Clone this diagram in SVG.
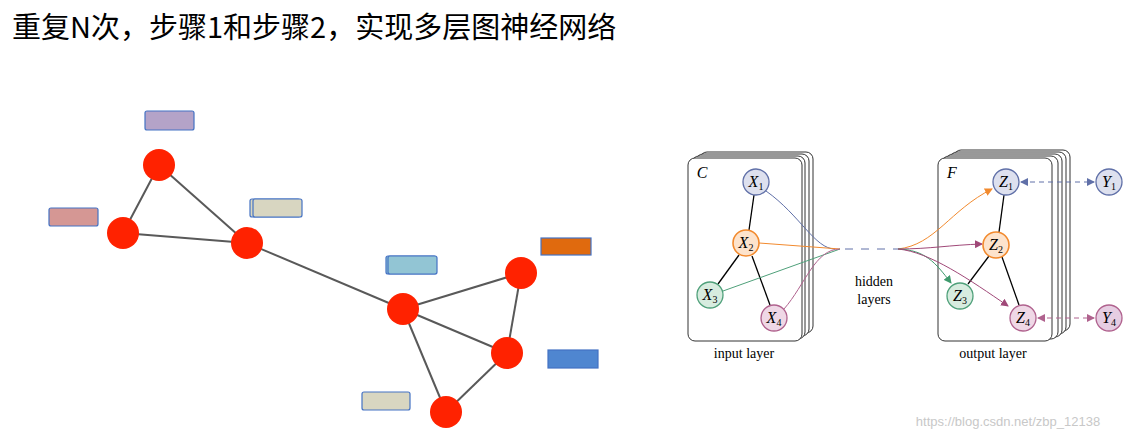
<svg xmlns="http://www.w3.org/2000/svg" width="1129" height="439" viewBox="0 0 1129 439">
<style>
.t{font-family:"Noto Sans CJK SC","Liberation Sans",sans-serif}
.s{font-family:"Liberation Serif",serif}
.m{font-family:"Liberation Serif",serif;font-style:italic;font-size:16px;text-anchor:middle}
.e{stroke:#595959;stroke-width:2}
.n{fill:#ff2200}
.b{stroke:#4472c4;stroke-width:1.2}
.card{fill:#fff;stroke:#333;stroke-width:1}
.k{stroke:#000;stroke-width:1.3}
</style>
<defs>
<marker id="ao" markerWidth="8" markerHeight="8" refX="7" refY="4" orient="auto" markerUnits="userSpaceOnUse"><path d="M0,0 L8,4 L0,8z" fill="#f28a2e"/></marker>
<marker id="ap" markerWidth="8" markerHeight="8" refX="7" refY="4" orient="auto" markerUnits="userSpaceOnUse"><path d="M0,0 L8,4 L0,8z" fill="#a04878"/></marker>
<marker id="ag" markerWidth="8" markerHeight="8" refX="7" refY="4" orient="auto" markerUnits="userSpaceOnUse"><path d="M0,0 L8,4 L0,8z" fill="#3e9a6c"/></marker>
<marker id="ab" markerWidth="8" markerHeight="8" refX="7" refY="4" orient="auto-start-reverse" markerUnits="userSpaceOnUse"><path d="M0,0 L8,4 L0,8z" fill="#6070a8"/></marker>
<marker id="am" markerWidth="8" markerHeight="8" refX="7" refY="4" orient="auto-start-reverse" markerUnits="userSpaceOnUse"><path d="M0,0 L8,4 L0,8z" fill="#b0628e"/></marker>
</defs>
<text class="t" x="12" y="38" font-size="29" fill="#000">重复N次，步骤1和步骤2，实现多层图神经网络</text>
<g id="connectors">
<line class="e" x1="159" y1="165" x2="123" y2="233"/>
<line class="e" x1="159" y1="165" x2="247" y2="243"/>
<line class="e" x1="123" y1="233" x2="247" y2="243"/>
<line class="e" x1="247" y1="243" x2="403" y2="309"/>
<line class="e" x1="403" y1="309" x2="521" y2="273"/>
<line class="e" x1="403" y1="309" x2="507" y2="353"/>
<line class="e" x1="521" y1="273" x2="507" y2="353"/>
<line class="e" x1="403" y1="309" x2="446" y2="412"/>
<line class="e" x1="507" y1="353" x2="446" y2="412"/>
</g>
<g id="graph-nodes">
<circle class="n" cx="159" cy="165" r="16"/>
<circle class="n" cx="123" cy="233" r="16"/>
<circle class="n" cx="247" cy="243" r="16"/>
<circle class="n" cx="403" cy="309" r="16"/>
<circle class="n" cx="521" cy="273" r="16"/>
<circle class="n" cx="507" cy="353" r="16"/>
<circle class="n" cx="446" cy="412" r="16"/>
</g>
<g id="feature-boxes">
<rect class="b" x="145" y="111" width="49" height="19" rx="2" fill="#b4a3c8"/>
<rect class="b" x="49" y="208" width="49" height="18" rx="2" fill="#d59794"/>
<rect class="b" x="250" y="199" width="50" height="18" rx="2" fill="#d8d6c1"/>
<rect class="b" x="253" y="199" width="49" height="18" rx="2" fill="#d8d6c1"/>
<rect class="b" x="386" y="256" width="50" height="18" rx="2" fill="#92c5d4"/>
<rect class="b" x="388" y="256" width="49" height="18" rx="2" fill="#92c5d4"/>
<rect class="b" x="541" y="238" width="50" height="17" fill="#e06a0e"/>
<rect class="b" x="548" y="350" width="50" height="18" fill="#4f86d0"/>
<rect class="b" x="362" y="392" width="48" height="18" rx="2" fill="#d8d6c1"/>
</g>
<g id="input-layer">
<rect class="card" x="700" y="152" width="113" height="181" rx="7"/>
<rect class="card" x="696" y="154" width="113" height="182" rx="7"/>
<rect class="card" x="692" y="156" width="113" height="183" rx="7"/>
<rect class="card" x="688" y="158" width="114" height="183" rx="7"/>
<text class="m" x="702" y="178">C</text>
<line class="k" x1="754" y1="195" x2="749" y2="230"/>
<line class="k" x1="739" y1="255" x2="718" y2="284"/>
<line class="k" x1="752" y1="256" x2="770" y2="305"/>
<path d="M766,191 C800,215 815,249 835,249" fill="none" stroke="#6070a8"/>
<path d="M759,243 L840,249" fill="none" stroke="#f28a2e"/>
<path d="M723,291 L840,249" fill="none" stroke="#4fa07a"/>
<path d="M784,309 C805,285 815,249 840,249" fill="none" stroke="#b0628e"/>
<circle cx="756" cy="182" r="13" fill="#dde0ee" stroke="#6070a8" stroke-width="1.3"/>
<circle cx="746" cy="243" r="13" fill="#fde3cc" stroke="#f28a2e" stroke-width="1.6"/>
<circle cx="710" cy="295" r="13" fill="#d7ecdf" stroke="#4fa07a" stroke-width="1.3"/>
<circle cx="774" cy="318" r="13" fill="#efd8e6" stroke="#b0628e" stroke-width="1.3"/>
<text class="m" x="756" y="187">X<tspan font-size="10" dy="3" font-style="normal">1</tspan></text>
<text class="m" x="746" y="248">X<tspan font-size="10" dy="3" font-style="normal">2</tspan></text>
<text class="m" x="710" y="300">X<tspan font-size="10" dy="3" font-style="normal">3</tspan></text>
<text class="m" x="774" y="323">X<tspan font-size="10" dy="3" font-style="normal">4</tspan></text>
<text class="s" x="744" y="358" font-size="14" text-anchor="middle">input layer</text>
</g>
<g id="hidden">
<line x1="845" y1="249" x2="898" y2="249" stroke="#6070a8" stroke-dasharray="8,8"/>
<text class="s" x="874" y="286" font-size="14" text-anchor="middle">hidden</text>
<text class="s" x="874" y="304" font-size="14" text-anchor="middle">layers</text>
</g>
<g id="output-layer">
<rect class="card" x="954" y="150" width="116" height="181" rx="7"/>
<rect class="card" x="950" y="152" width="116" height="182" rx="7"/>
<rect class="card" x="946" y="154" width="116" height="183" rx="7"/>
<rect class="card" x="942" y="156" width="116" height="183" rx="7"/>
<rect class="card" x="938" y="158" width="114" height="183" rx="7"/>
<text class="m" x="952" y="178">F</text>
<line class="k" x1="1004" y1="195" x2="999" y2="232"/>
<line class="k" x1="989" y1="256" x2="968" y2="284"/>
<line class="k" x1="1002" y1="257" x2="1019" y2="305"/>
<path d="M898,249 C935,245 950,210 992,189" fill="none" stroke="#f28a2e" marker-end="url(#ao)"/>
<path d="M898,249 C930,249 950,245 982,244" fill="none" stroke="#a04878" marker-end="url(#ap)"/>
<path d="M898,249 C925,250 935,262 951,283" fill="none" stroke="#3e9a6c" marker-end="url(#ag)"/>
<path d="M898,249 C930,252 970,280 1008,306" fill="none" stroke="#a04878" marker-end="url(#ap)"/>
<line x1="1021" y1="182" x2="1094" y2="182" stroke="#6070a8" stroke-dasharray="5,4" marker-start="url(#ab)" marker-end="url(#ab)"/>
<line x1="1038" y1="318" x2="1094" y2="318" stroke="#b0628e" stroke-dasharray="5,4" marker-start="url(#am)" marker-end="url(#am)"/>
<circle cx="1006" cy="182" r="13" fill="#dde0ee" stroke="#6070a8" stroke-width="1.3"/>
<circle cx="996" cy="245" r="13" fill="#fde3cc" stroke="#f28a2e" stroke-width="1.6"/>
<circle cx="960" cy="296" r="13" fill="#d7ecdf" stroke="#4fa07a" stroke-width="1.3"/>
<circle cx="1023" cy="318" r="13" fill="#efd8e6" stroke="#b0628e" stroke-width="1.3"/>
<text class="m" x="1006" y="187">Z<tspan font-size="10" dy="3" font-style="normal">1</tspan></text>
<text class="m" x="996" y="250">Z<tspan font-size="10" dy="3" font-style="normal">2</tspan></text>
<text class="m" x="960" y="301">Z<tspan font-size="10" dy="3" font-style="normal">3</tspan></text>
<text class="m" x="1023" y="323">Z<tspan font-size="10" dy="3" font-style="normal">4</tspan></text>
<text class="s" x="993" y="358" font-size="14" text-anchor="middle">output layer</text>
</g>
<g id="targets">
<circle cx="1109" cy="182" r="13" fill="#dde0ee" stroke="#6070a8" stroke-width="1.3"/>
<circle cx="1109" cy="318" r="13" fill="#e6cde2" stroke="#b0628e" stroke-width="1.3"/>
<text class="m" x="1109" y="187">Y<tspan font-size="10" dy="3" font-style="normal">1</tspan></text>
<text class="m" x="1109" y="323">Y<tspan font-size="10" dy="3" font-style="normal">4</tspan></text>
</g>
<text x="1008" y="426" font-family="Liberation Sans,sans-serif" font-size="13" fill="#c8c8c8" text-anchor="middle">https://blog.csdn.net/zbp_12138</text>
</svg>
